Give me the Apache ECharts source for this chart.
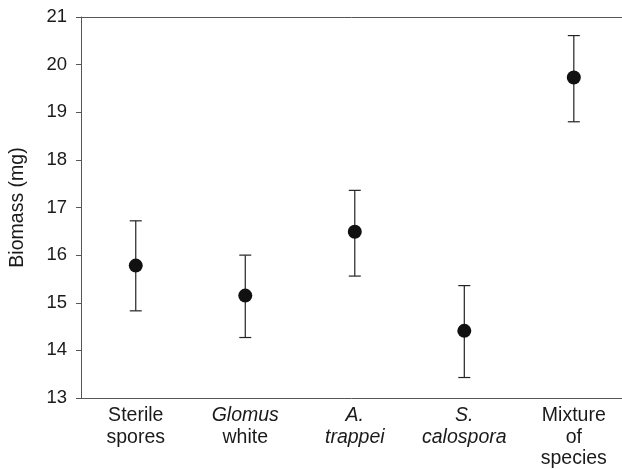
<!DOCTYPE html>
<html><head><meta charset="utf-8">
<script src="https://cdn.jsdelivr.net/npm/echarts@6/dist/echarts.min.js"></script>
<style>html,body{margin:0;padding:0;background:#fff}#c{width:622px;height:469px}</style>
</head><body><div id="c"></div>
<script>
const categories = ['Sterile spores', 'Glomus white', 'A. trappei', 'S. calospora', 'Mixture of species'];
const means = [15.78, 15.15, 16.49, 14.41, 19.73];
const upper = [16.72, 16.00, 17.36, 15.36, 20.61];
const lower = [14.83, 14.27, 15.56, 13.43, 18.80];
const yTicks = [13, 14, 15, 16, 17, 18, 19, 20, 21];

const FONT = 'Liberation Sans';
const labelRich = {
  n: {fontSize: 19.5, lineHeight: 21.5, color: '#1a1a1a', fontFamily: FONT},
  i: {fontSize: 19.5, lineHeight: 21.5, color: '#1a1a1a', fontFamily: FONT, fontStyle: 'italic'}
};
const labelMap = {
  'Sterile spores': '{n|Sterile}\n{n|spores}',
  'Glomus white': '{i|Glomus}\n{n|white}',
  'A. trappei': '{i|A.}\n{i|trappei}',
  'S. calospora': '{i|S.}\n{i|calospora}',
  'Mixture of species': '{n|Mixture}\n{n|of}\n{n|species}'
};
const catIdx = categories.map((c, i) => i);
const xMin = -0.5, xMax = 4.44; // plot is cut off at the right edge of the image

const chart = echarts.init(document.getElementById('c'));
chart.setOption({
  animation: false,
  grid: {left: 81, right: 0, top: 17, bottom: 71, show: false},
  xAxis: [{
    type: 'value', min: xMin, max: xMax,
    axisLine: {show: true, onZero: false, lineStyle: {color: '#555', width: 1}},
    axisTick: {show: false},
    splitLine: {show: false},
    axisLabel: {margin: 7, customValues: catIdx, formatter: v => labelMap[categories[Math.round(v)]], rich: labelRich}
  }, {
    type: 'value', position: 'top', min: xMin, max: xMax,
    axisLine: {show: true, onZero: false, lineStyle: {color: '#555', width: 1}},
    axisTick: {show: false}, axisLabel: {show: false}, splitLine: {show: false}
  }],
  yAxis: {
    type: 'value', min: yTicks[0], max: yTicks[yTicks.length - 1], interval: 1,
    name: 'Biomass (mg)', nameLocation: 'middle', nameGap: 53, nameRotate: 90,
    nameTextStyle: {fontSize: 19.5, color: '#1a1a1a', fontFamily: FONT},
    axisLine: {show: true, onZero: false, lineStyle: {color: '#555', width: 1}},
    axisTick: {show: true, length: 5, lineStyle: {color: '#555'}},
    splitLine: {show: false},
    axisLabel: {margin: 14, fontSize: 18.5, color: '#1a1a1a', fontFamily: FONT}
  },
  series: [
    {
      type: 'custom',
      data: catIdx.map(i => [i, lower[i], upper[i]]),
      renderItem: function (params, api) {
        const x = api.value(0);
        const lo = api.coord([x, api.value(1)]);
        const hi = api.coord([x, api.value(2)]);
        const hw = 6;
        const st = {stroke: '#222', lineWidth: 1.2, fill: null};
        return {
          type: 'group',
          children: [
            {type: 'line', shape: {x1: lo[0], y1: lo[1], x2: hi[0], y2: hi[1]}, style: st},
            {type: 'line', shape: {x1: lo[0] - hw, y1: lo[1], x2: lo[0] + hw, y2: lo[1]}, style: st},
            {type: 'line', shape: {x1: hi[0] - hw, y1: hi[1], x2: hi[0] + hw, y2: hi[1]}, style: st}
          ]
        };
      },
      z: 2
    },
    {
      type: 'scatter',
      data: catIdx.map(i => [i, means[i]]),
      symbol: 'circle', symbolSize: 14,
      itemStyle: {color: '#111', opacity: 1},
      z: 3
    }
  ]
});
</script></body></html>
